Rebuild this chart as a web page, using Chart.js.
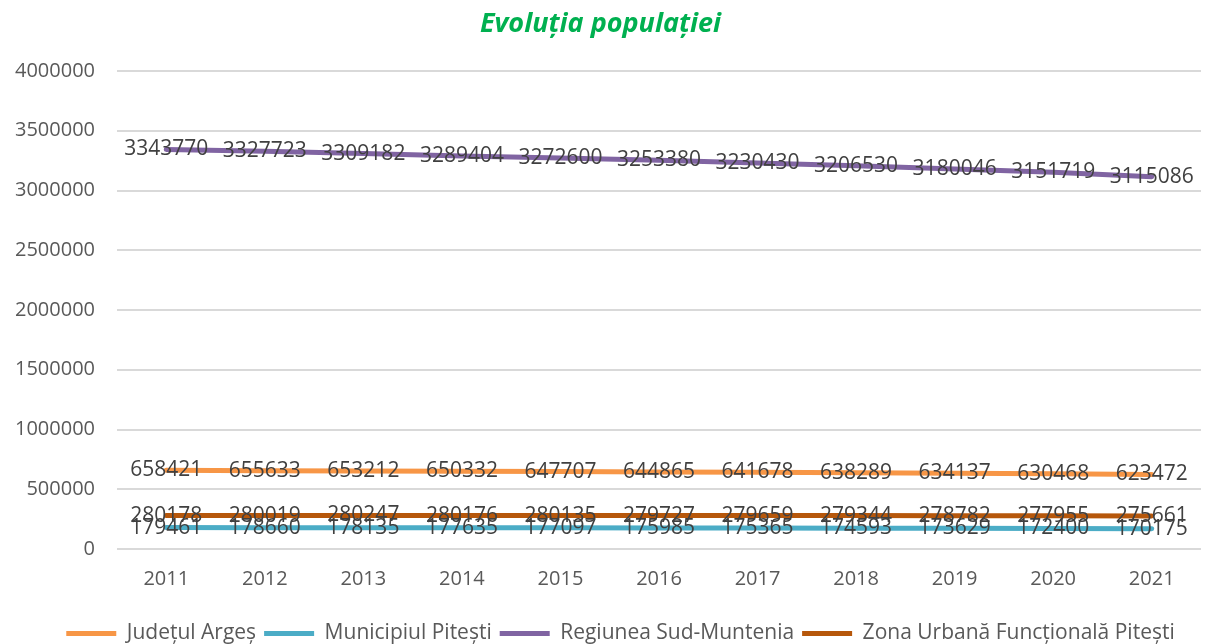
<!DOCTYPE html>
<html>
<head>
<meta charset="utf-8">
<script src="https://cdn.jsdelivr.net/npm/chart.js@4"></script>
<style>
  html, body { margin: 0; padding: 0; background: #fff; }
  #wrap { width: 1216px; height: 644px; }
</style>
</head>
<body>
<div id="wrap"><canvas id="graph"></canvas></div>
<script>
// Date extrase din grafic
var ani = ['2011', '2012', '2013', '2014', '2015', '2016', '2017', '2018', '2019', '2020', '2021'];
var judetulArges = [658421, 655633, 653212, 650332, 647707, 644865, 641678, 638289, 634137, 630468, 623472];
var municipiulPitesti = [179461, 178660, 178135, 177635, 177097, 175985, 175365, 174593, 173629, 172400, 170175];
var regiuneaSudMuntenia = [3343770, 3327723, 3309182, 3289404, 3272600, 3253380, 3230430, 3206530, 3180046, 3151719, 3115086];
var zonaUrbana = [280178, 280019, 280247, 280176, 280135, 279727, 279659, 279344, 278782, 277955, 275661];

var FONT = '"Open Sans", "Liberation Sans", sans-serif';

// Plugin simplu pentru etichetele valorilor
var etichetePlugin = {
    id: 'etichete',
    afterDatasetsDraw: function(chart) {
        var ctx = chart.ctx;
        ctx.save();
        ctx.font = '21px ' + FONT;
        ctx.fillStyle = '#404040';
        ctx.textAlign = 'center';
        ctx.textBaseline = 'middle';
        chart.data.datasets.forEach(function(ds, i) {
            var meta = chart.getDatasetMeta(i);
            meta.data.forEach(function(pt, j) {
                ctx.fillText(String(ds.data[j]), pt.x, pt.y);
            });
        });
        ctx.restore();
    }
};

// Mut legenda putin mai jos si spre dreapta
var legendaPlugin = {
    id: 'legendaPozitie',
    afterLayout: function(chart) {
        var lg = chart.legend;
        if (!lg) return;
        lg.left += 40;
        lg.top += 10;
        lg.bottom += 10;
    }
};

function serie(label, data, color) {
    return {
        label: label,
        data: data,
        borderColor: color,
        backgroundColor: color,
        borderWidth: 5,
        borderCapStyle: 'round',
        pointRadius: 0,
        pointHoverRadius: 0,
        tension: 0
    };
}

var ctx = document.getElementById('graph').getContext('2d');
window.myChart = new Chart(ctx, {
    type: 'line',
    data: {
        labels: ani,
        datasets: [
            serie('Județul Argeș', judetulArges, '#F79646'),
            serie('Municipiul Pitești', municipiulPitesti, '#4BACC6'),
            serie('Regiunea Sud-Muntenia', regiuneaSudMuntenia, '#8064A2'),
            serie('Zona Urbană Funcțională Pitești', zonaUrbana, '#B6570B')
        ]
    },
    plugins: [etichetePlugin, legendaPlugin],
    options: {
        responsive: true,
        maintainAspectRatio: false,
        animation: false,
        layout: { padding: { top: 0, right: 15, bottom: 0, left: 0 } },
        plugins: {
            title: {
                display: true,
                text: 'Evoluția populației',
                color: '#00B050',
                font: { family: FONT, size: 27, weight: 'bold', style: 'italic' },
                padding: { top: 8, bottom: 30.6 }
            },
            legend: {
                position: 'bottom',
                labels: {
                    color: '#595959',
                    font: { family: FONT, size: 21 },
                    usePointStyle: true,
                    pointStyle: 'line',
                    pointStyleWidth: 50,
                    padding: 8
                }
            },
            tooltip: { enabled: false }
        },
        scales: {
            x: {
                offset: true,
                afterFit: function(s) { s.height = 56; },
                grid: { display: false, drawTicks: false },
                border: { display: false },
                ticks: { color: '#595959', font: { family: FONT, size: 20 }, padding: 18 }
            },
            y: {
                min: 0,
                max: 4000000,
                afterFit: function(s) { s.width = 117; },
                grid: { color: '#D9D9D9', lineWidth: 2, drawTicks: false },
                border: { display: false },
                ticks: {
                    stepSize: 500000,
                    color: '#595959',
                    font: { family: FONT, size: 20 },
                    padding: 22,
                    callback: function(v) { return String(v); }
                }
            }
        }
    }
});
</script>
</body>
</html>
